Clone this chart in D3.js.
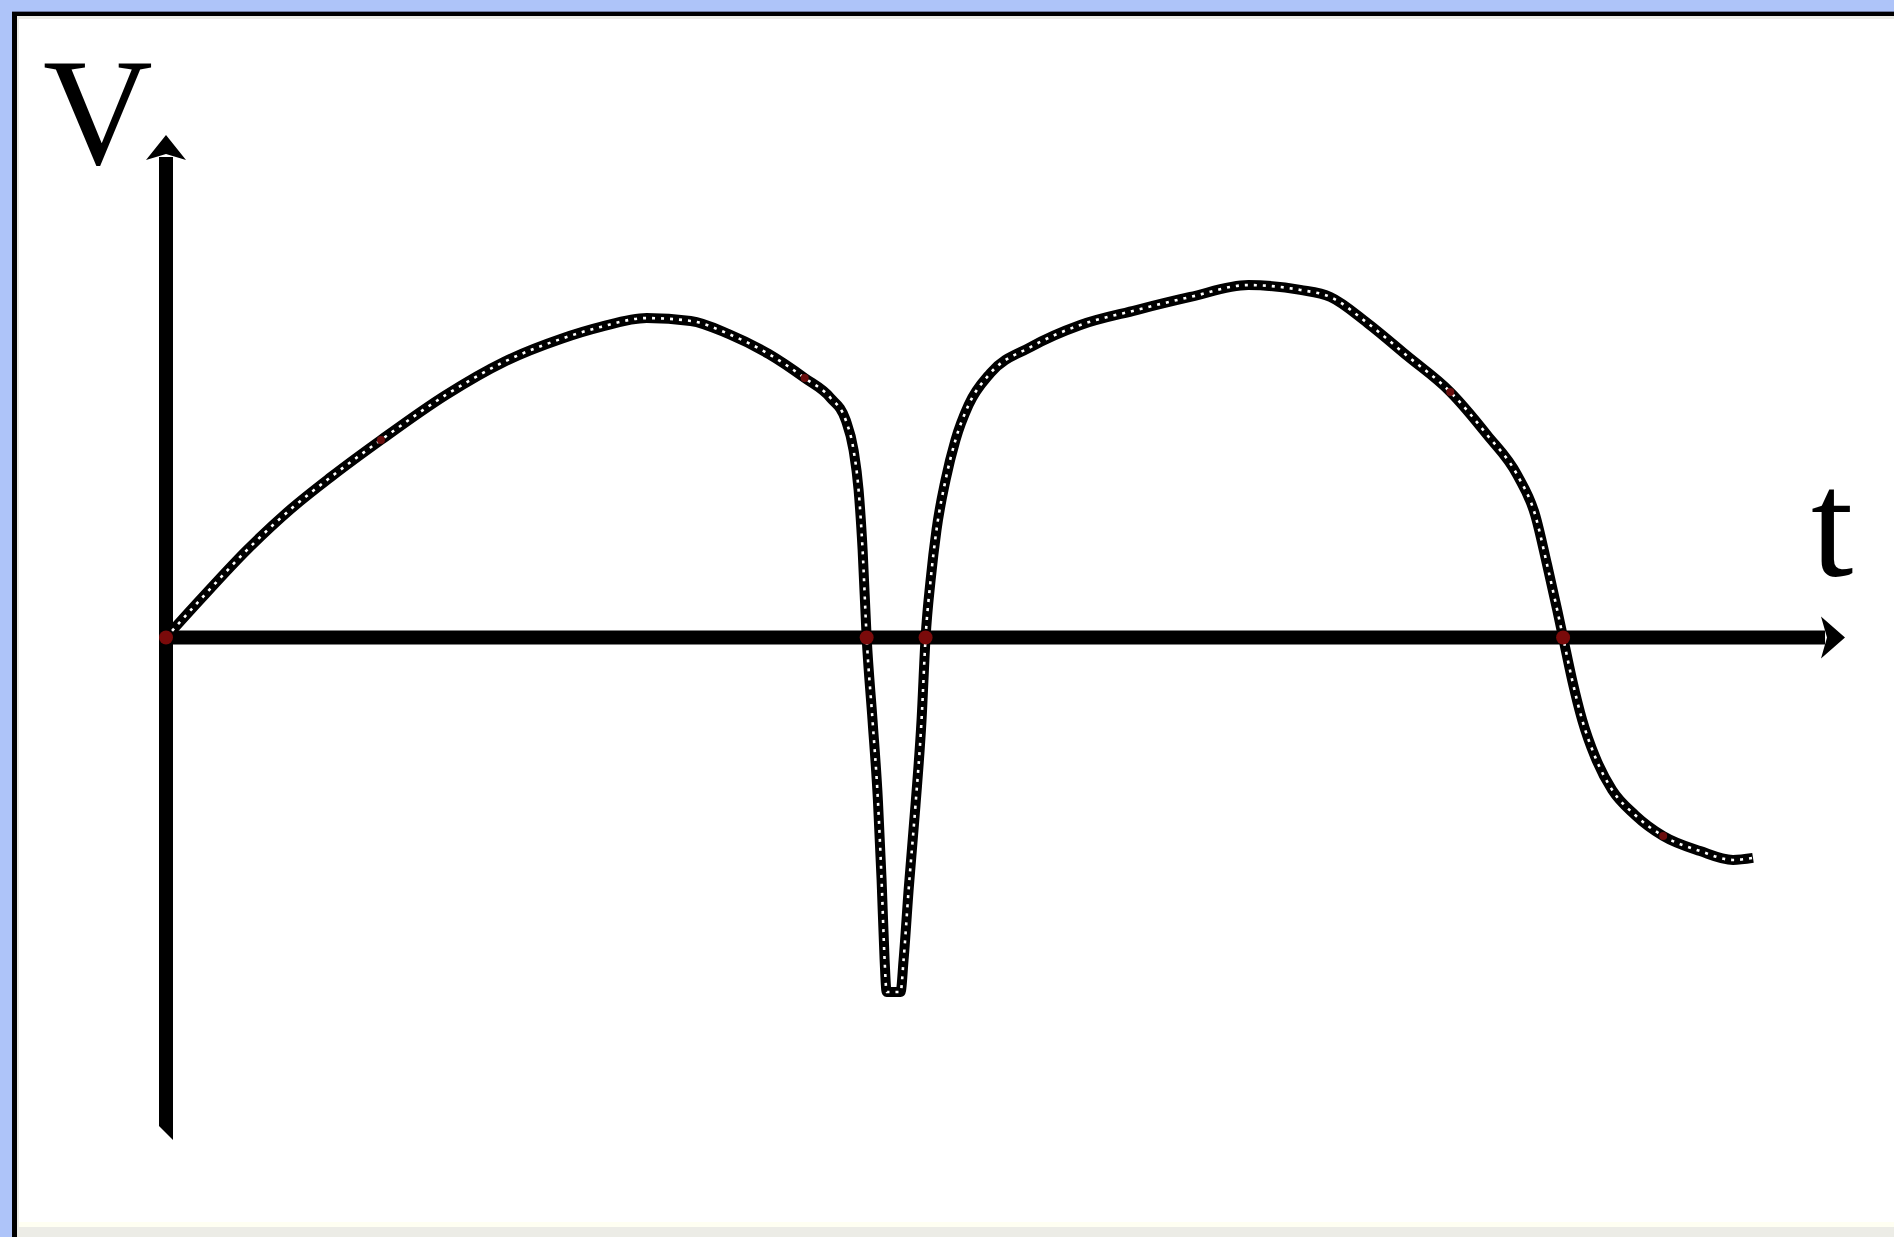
<!DOCTYPE html>
<html>
<head>
<meta charset="utf-8">
<script src="https://cdn.jsdelivr.net/npm/d3@7"></script>
<style>
  body { margin: 0; background: #fff; }
</style>
</head>
<body>
<div id="plot"></div>
<script>
// curve data (t, V)
const tVals = [0, 2.08, 4.82, 7.44, 9.82, 12.80, 16.67, 20.12, 23.51, 25.89, 28.63, 31.25, 33.51, 35.89, 38.04,
  39.58, 40.48, 40.95, 41.25, 41.49, 41.73, 42.08, 42.40, 42.62, 42.80, 42.92, 43.75, 43.93, 44.23, 44.64, 45.00,
  45.24, 45.54, 45.89, 46.43, 47.02, 47.80, 49.11, 51.49, 54.46, 57.80, 61.01, 64.46, 67.56, 69.35, 71.55, 73.93,
  76.49, 78.69, 80.48, 81.55, 82.26, 82.86, 83.21, 83.75, 84.35, 85.12, 86.13, 87.50, 89.17, 91.37, 93.33, 94.52];
const vVals = [0, 2.30, 5.22, 7.67, 9.58, 11.79, 14.48, 16.45, 17.82, 18.54, 19.07, 18.90, 18.12, 16.93, 15.49,
  14.30, 12.99, 11.19, 8.81, 5.22, 0, -4.93, -9.70, -14.48, -19.25, -21.16, -21.16, -19.25, -15.07, -10.00, -4.93,
  0, 3.43, 6.42, 9.40, 11.79, 13.88, 15.79, 17.34, 18.66, 19.55, 20.33, 21.04, 20.75, 20.33, 18.78, 16.81,
  14.66, 12.09, 9.70, 7.31, 4.33, 1.64, 0, -2.54, -4.93, -7.13, -9.10, -10.60, -11.85, -12.75, -13.28, -13.16];

// points where the curve crosses zero
const crossT = [0, 41.73, 45.24, 83.21];
// small marks along the curve (index into data)
const markIdx = [5, 14, 47, 59];

const axisLabels = ["V", "t"];
const tDomain = [0, 100];
const vDomain = [-30, 30];

let width = 1894, height = 1237;

let svg = d3.select("#plot")
  .append("svg")
  .attr("width", width)
  .attr("height", height);

// slide frame
svg.append("rect").attr("x", 0).attr("y", 0).attr("width", width).attr("height", height).attr("fill", "#aec4f9");
svg.append("rect").attr("x", 12).attr("y", 11).attr("width", width - 12).attr("height", 2).attr("fill", "#6f7aa0");
svg.append("rect").attr("x", 12).attr("y", 12).attr("width", width - 12).attr("height", height - 12).attr("fill", "#000");
svg.append("rect").attr("x", 17).attr("y", 16).attr("width", width - 17).attr("height", height - 16).attr("fill", "#ecece6");
svg.append("rect").attr("x", 19).attr("y", 19).attr("width", width - 19).attr("height", 1205).attr("fill", "#fff");
svg.append("rect").attr("x", 19).attr("y", 1222).attr("width", width - 19).attr("height", 5).attr("fill", "#fffff2");

let x = d3.scaleLinear().domain(tDomain).range([166, 1845]);
let y = d3.scaleLinear().domain(vDomain).range([1140, 135]);

let x0 = x(0), y0 = y(0);
let aw = 7; // half of axis width

// vertical axis
svg.append("path")
  .attr("d", "M" + (x0 - aw) + "," + (y(30) + 22) + " L" + (x0 + aw) + "," + (y(30) + 22) +
    " L" + (x0 + aw) + "," + y(-30) + " L" + (x0 - aw) + "," + (y(-30) - 14) + "Z")
  .attr("fill", "#000");
svg.append("path")
  .attr("d", "M" + x0 + "," + y(30) + " L" + (x0 + 20) + "," + (y(30) + 25) +
    " L" + x0 + "," + (y(30) + 19) + " L" + (x0 - 20) + "," + (y(30) + 25) + "Z")
  .attr("fill", "#000");

// horizontal axis
svg.append("rect")
  .attr("x", x0 - aw)
  .attr("y", y0 - aw)
  .attr("width", x(100) - 20 - (x0 - aw))
  .attr("height", aw * 2)
  .attr("fill", "#000");
svg.append("path")
  .attr("d", "M" + x(100) + "," + y0 + " L" + (x(100) - 24) + "," + (y0 - 21) +
    " L" + (x(100) - 18) + "," + y0 + " L" + (x(100) - 24) + "," + (y0 + 21) + "Z")
  .attr("fill", "#000");

// labels
svg.append("text")
  .attr("x", 43).attr("y", 164)
  .attr("font-family", "Liberation Serif, Times New Roman, serif")
  .attr("font-size", 152)
  .text(axisLabels[0]);
svg.append("text")
  .attr("x", 1811).attr("y", 576)
  .attr("font-family", "Liberation Serif, Times New Roman, serif")
  .attr("font-size", 152)
  .text(axisLabels[1]);

// curve
let pts = tVals.map(function (t, i) { return [t, vVals[i]]; });
let line = d3.line()
  .x(function (d) { return x(d[0]); })
  .y(function (d) { return y(d[1]); })
  .curve(d3.curveMonotoneX);

svg.append("path")
  .attr("d", line(pts))
  .attr("fill", "none")
  .attr("stroke", "#000")
  .attr("stroke-width", 10)
  .attr("stroke-linejoin", "round");
// chain look: white dots inside the black line
svg.append("path")
  .attr("d", line(pts))
  .attr("fill", "none")
  .attr("stroke", "#fff")
  .attr("stroke-width", 2.6)
  .attr("stroke-dasharray", "3,6");

// red marks
svg.append("g")
  .selectAll("circle.cross")
  .data(crossT)
  .enter()
  .append("circle")
  .attr("cx", function (d) { return x(d); })
  .attr("cy", y0)
  .attr("r", 7)
  .attr("fill", "#7a0a0a");

svg.append("g")
  .selectAll("circle.mark")
  .data(markIdx)
  .enter()
  .append("circle")
  .attr("cx", function (d) { return x(tVals[d]); })
  .attr("cy", function (d) { return y(vVals[d]); })
  .attr("r", 4)
  .attr("fill", "#6a0d0d");
</script>
</body>
</html>
